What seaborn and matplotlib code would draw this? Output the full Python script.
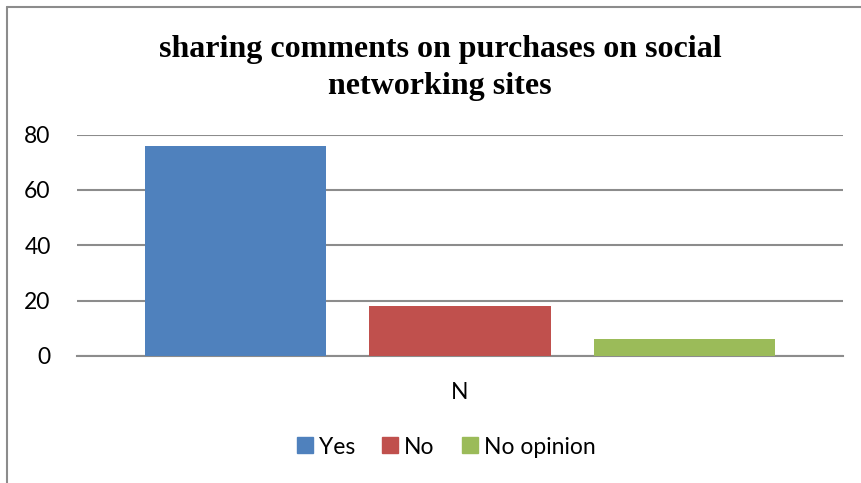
import matplotlib
matplotlib.use("Agg")
import matplotlib.pyplot as plt
from matplotlib.lines import Line2D
import seaborn as sns
import pandas as pd

# Survey responses
categories = ["N"]
responses = ["Yes", "No", "No opinion"]
values = [76, 18, 6]
colors = ["#4F81BD", "#C0504D", "#9BBB59"]
y_ticks = [0, 20, 40, 60, 80]

df = pd.DataFrame({
    "category": categories * len(responses),
    "response": responses,
    "value": values,
})

sns.set_theme(style="white")
plt.rcParams["font.family"] = ["Lato", "DejaVu Sans"]
plt.rcParams["text.color"] = "black"

fig = plt.figure(figsize=(8.61, 4.83), dpi=100)
ax = fig.add_axes([77 / 861, 1 - 356 / 483, (843 - 77) / 861, (356 - 134.5) / 483])

sns.barplot(data=df, x="category", y="value", hue="response",
            palette=colors, width=0.881, gap=0.195, ax=ax,
            saturation=1, legend=False, linewidth=0, zorder=3)

ax.set_ylim(0, 80)
ax.set_xlim(-0.5, 0.5)
ax.set_yticks(y_ticks)
ax.set_yticklabels([str(t) for t in y_ticks])
ax.yaxis.grid(True, color="#8c8c8c", linewidth=1.5, zorder=0)
ax.set_axisbelow(True)
for side in ["left", "right", "top"]:
    ax.spines[side].set_visible(False)
ax.spines["bottom"].set_color("#8c8c8c")
ax.spines["bottom"].set_linewidth(1.5)
ax.tick_params(axis="both", length=0, labelsize=16.5, colors="black")
ax.tick_params(axis="y", pad=19)
ax.tick_params(axis="x", pad=19)
ax.set_xlabel("")
ax.set_ylabel("")

fig.text(440 / 861, 1 - 68 / 483,
         "sharing comments on purchases on social\nnetworking sites",
         ha="center", va="center", fontsize=23, fontweight="bold",
         family="Liberation Serif", linespacing=1.38, color="black")

handles = [Line2D([], [], marker="s", linestyle="", markersize=11,
                  markerfacecolor=c, markeredgecolor=c, label=r)
           for r, c in zip(responses, colors)]
fig.legend(handles=handles, loc="center", bbox_to_anchor=(445 / 861, 1 - 447 / 483),
           ncol=3, frameon=False, fontsize=16.5, handletextpad=0.15,
           columnspacing=1.1, handlelength=0.9, labelcolor="black")

# Chart frame edges
fig.add_artist(Line2D([7 / 861, 1], [1 - 7 / 483, 1 - 7 / 483],
                      transform=fig.transFigure, color="#8c8c8c", linewidth=1.5))
fig.add_artist(Line2D([7 / 861, 7 / 861], [0, 1 - 7 / 483],
                      transform=fig.transFigure, color="#8c8c8c", linewidth=1.5))

fig.savefig("out.png", dpi=100)
